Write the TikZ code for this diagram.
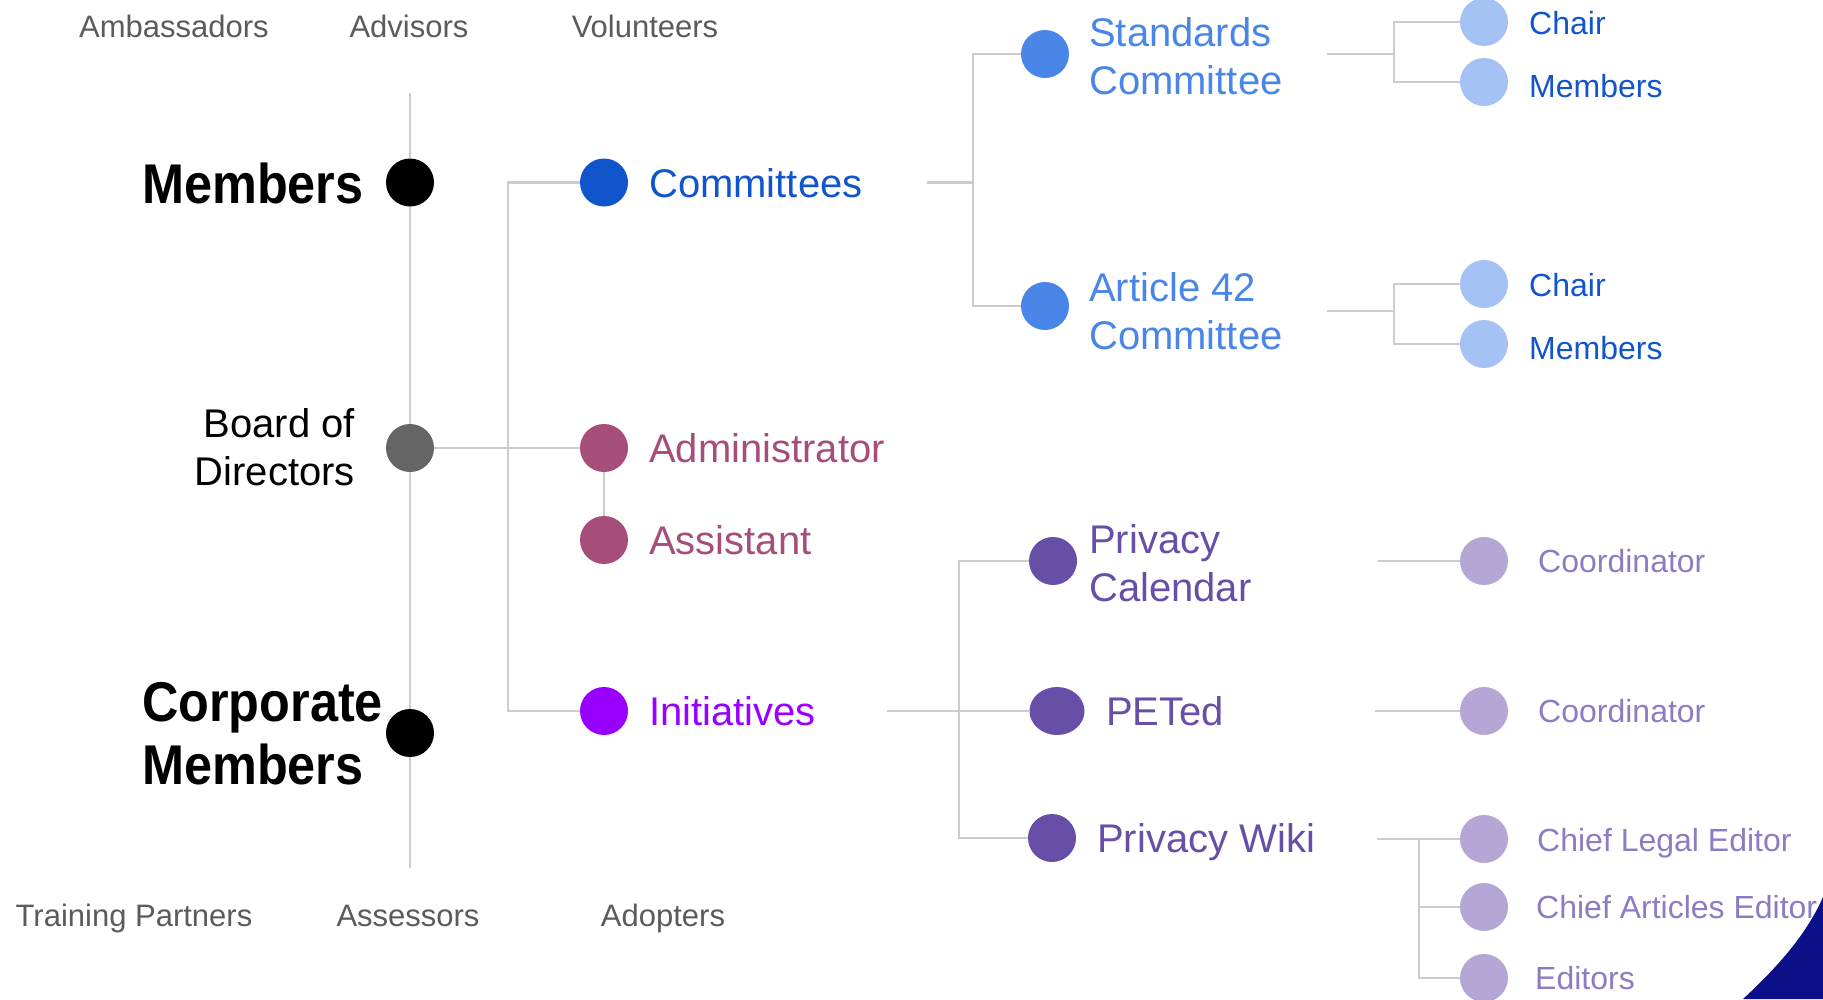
\documentclass[tikz,border=0pt]{standalone}
\usepackage{fontspec}
\setmainfont{Liberation Sans}
\newfontfamily\condfont[FakeStretch=0.9]{Liberation Sans}
\usetikzlibrary{backgrounds,shapes.geometric}
\definecolor{linegray}{HTML}{CCCCCC}
\definecolor{textgray}{HTML}{5B5B5B}
\definecolor{boardgray}{HTML}{666666}
\definecolor{comblue}{HTML}{1155CC}
\definecolor{stdblue}{HTML}{4A86E8}
\definecolor{lightblue}{HTML}{A4C2F4}
\definecolor{admag}{HTML}{A64D79}
\definecolor{inipurple}{HTML}{9900FF}
\definecolor{dpurple}{HTML}{674EA7}
\definecolor{lpurple}{HTML}{B4A7D6}
\definecolor{lptext}{HTML}{8E7CC3}
\definecolor{navy}{RGB}{12,16,136}
\begin{document}
\begin{tikzpicture}[x=1pt,y=-1pt,
  dot/.style={circle, minimum size=48pt, inner sep=0pt, draw=none},
  conn/.style={draw=linegray, line width=2.2pt},
  lbl/.style={anchor=west, inner sep=0pt, font=\fontsize{40}{48}\selectfont, text height=29pt, text depth=0pt},
  lbltwo/.style={anchor=west, inner sep=0pt, font=\fontsize{40}{48}\selectfont, align=left},
  small/.style={anchor=west, inner sep=0pt, font=\fontsize{32}{38}\selectfont, text height=23pt, text depth=0pt},
  grey/.style={inner sep=0pt, text=textgray, font=\fontsize{31}{37}\selectfont, text height=22pt, text depth=0pt},
  big/.style={anchor=west, inner sep=0pt, font=\condfont\bfseries\fontsize{56}{63}\selectfont, align=left},
]
\path[use as bounding box] (0,0) rectangle (1823,999);

% grey side labels
\node[grey] (amb) at (174,26) {Ambassadors};
\node[grey] (adv) at (409,26) {Advisors};
\node[grey] (vol) at (645,26) {Volunteers};
\node[grey] (tra) at (134,915) {Training Partners};
\node[grey] (ass) at (408,915) {Assessors};
\node[grey] (ado) at (663,915) {Adopters};

% spine
\coordinate (spTop) at (410,93);
\coordinate (spBot) at (410,868);
\node[dot, fill=black] (mem) at (410,182.5) {};
\node[dot, fill=boardgray] (board) at (410,448) {};
\node[dot, fill=black] (corp) at (410,733) {};
\node[big, text height=40pt, text depth=0pt] (memL) at (142,183) {Members};
\node[big] (corpL) at (142,733.5) {Corporate\\Members};
\node[anchor=east, inner sep=0pt, align=right, font=\fontsize{40}{48}\selectfont] (boardL) at (355,447.5) {Board of\\Directors};

% second level
\node[dot, fill=comblue] (com) at (604,182.5) {};
\node[dot, fill=admag] (admin) at (604,448) {};
\node[dot, fill=admag] (asst) at (604,540) {};
\node[dot, fill=inipurple] (ini) at (604,711) {};
\node[lbl, text=comblue] (comL) at (649,182.5) {Committees};
\node[lbl, text=admag] (adminL) at (649,448) {Administrator};
\node[lbl, text=admag] (asstL) at (649,540) {Assistant};
\node[lbl, text=inipurple] (iniL) at (649,711) {Initiatives};

% committees
\node[dot, fill=stdblue] (std) at (1045,54) {};
\node[dot, fill=stdblue] (art) at (1045,306) {};
\node[lbltwo, text=stdblue] (stdL) at (1089,56) {Standards\\Committee};
\node[lbltwo, text=stdblue] (artL) at (1089,311) {Article 42\\Committee};
\node[dot, fill=lightblue] (c1) at (1484,22) {};
\node[dot, fill=lightblue] (m1) at (1484,82) {};
\node[dot, fill=lightblue] (c2) at (1484,284) {};
\node[dot, fill=lightblue] (m2) at (1484,344) {};
\node[small, text=comblue] (c1L) at (1529,23) {Chair};
\node[small, text=comblue] (m1L) at (1529,86) {Members};
\node[small, text=comblue] (c2L) at (1529,285) {Chair};
\node[small, text=comblue] (m2L) at (1529,348) {Members};

% initiatives
\node[dot, fill=dpurple] (pc) at (1053,561) {};
\node[ellipse, minimum width=55pt, minimum height=48pt, inner sep=0pt, fill=dpurple] (pet) at (1057,711) {};
\node[dot, fill=dpurple] (pw) at (1052,838) {};
\node[lbltwo, text=dpurple] (pcL) at (1089,563.5) {Privacy\\Calendar};
\node[lbl, text=dpurple] (petL) at (1106,711) {PETed};
\node[lbl, text=dpurple] (pwL) at (1097,838) {Privacy Wiki};
\node[dot, fill=lpurple] (co1) at (1484,561) {};
\node[dot, fill=lpurple] (co2) at (1484,711) {};
\node[dot, fill=lpurple] (cle) at (1484,839) {};
\node[dot, fill=lpurple] (cae) at (1484,907) {};
\node[dot, fill=lpurple] (ed) at (1484,978) {};
\node[small, text=lptext] (co1L) at (1538,561) {Coordinator};
\node[small, text=lptext] (co2L) at (1538,711) {Coordinator};
\node[small, text=lptext] (cleL) at (1537,840) {Chief Legal Editor};
\node[small, text=lptext] (caeL) at (1536,907) {Chief Articles Editor};
\node[small, text=lptext] (edL) at (1535,978) {Editors};

% junction coordinates
\coordinate (jc) at (508,182.5);
\coordinate (ji) at (508,711);
\coordinate (comOut) at (927,182.5);
\coordinate (comJ) at (973,182.5);
\coordinate (stdOut) at (1327,54);
\coordinate (stdJ) at (1394,54);
\coordinate (artOut) at (1327,311);
\coordinate (artJ) at (1394,311);
\coordinate (iniOut) at (887,711);
\coordinate (iniJ) at (959,711);
\coordinate (pcOut) at (1378,561);
\coordinate (petOut) at (1375,711);
\coordinate (pwOut) at (1377,839);
\coordinate (pwJ) at (1419,839);

\begin{scope}[on background layer]
\fill[navy] (1743,999) .. controls (1772,972) and (1805,938) .. (1823,897) -- (1823,999) -- cycle;
\draw[conn] (spTop) -- (mem);
\draw[conn] (mem) -- (board);
\draw[conn] (board) -- (corp);
\draw[conn] (corp) -- (spBot);
\draw[conn] (board) -- (admin);
\draw[conn] (com) -- (jc) -- (ji) -- (ini);
\draw[conn] (admin) -- (asst);
\draw[conn] (comOut) -- (comJ);
\draw[conn] (std) -- (std -| comJ) -- (art -| comJ) -- (art);
\draw[conn] (stdOut) -- (stdJ);
\draw[conn] (c1) -- (c1 -| stdJ) -- (m1 -| stdJ) -- (m1);
\draw[conn] (artOut) -- (artJ);
\draw[conn] (c2) -- (c2 -| artJ) -- (m2 -| artJ) -- (m2);
\draw[conn] (iniOut) -- (iniJ);
\draw[conn] (pc) -- (pc -| iniJ) -- (pw -| iniJ) -- (pw);
\draw[conn] (iniJ) -- (pet);
\draw[conn] (pcOut) -- (co1);
\draw[conn] (petOut) -- (co2);
\draw[conn] (pwOut) -- (pwJ) -- (cle);
\draw[conn] (pwJ) -- (ed -| pwJ) -- (ed);
\draw[conn] (cae -| pwJ) -- (cae);
\end{scope}
\end{tikzpicture}
\end{document}
